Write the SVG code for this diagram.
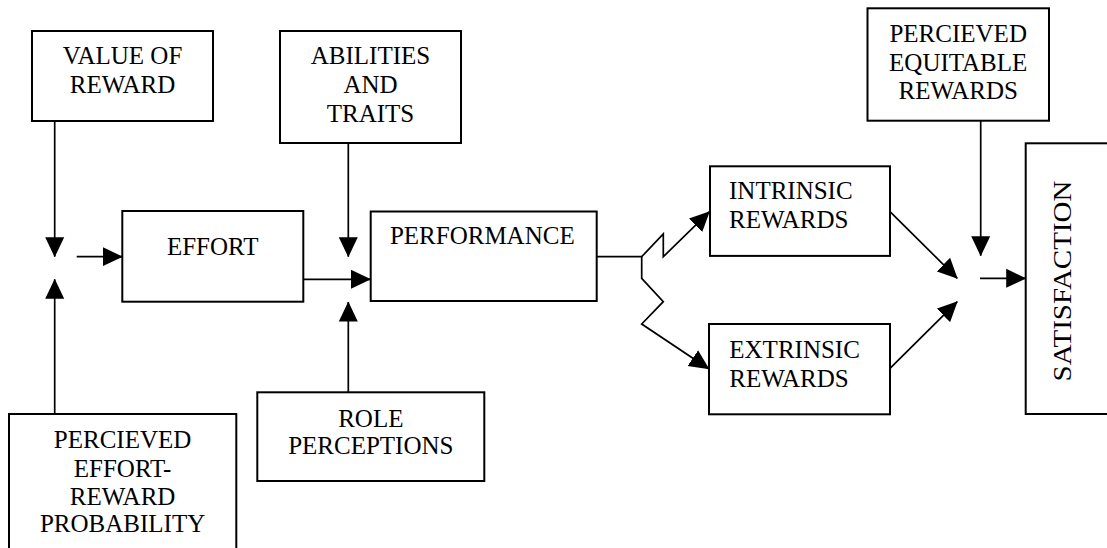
<svg xmlns="http://www.w3.org/2000/svg" width="1107" height="548" viewBox="0 0 1107 548">
<style>
  .box { fill: #ffffff; stroke: #000000; stroke-width: 2; }
  .lbl { font-family: "Liberation Serif", "Times New Roman", serif; font-size: 25px; fill: #000000; }
  .c { text-anchor: middle; }
  .conn { fill: none; stroke: #000000; stroke-width: 1.7; marker-end: url(#arrow); }
</style>
<defs>
  <marker id="arrow" markerUnits="userSpaceOnUse" markerWidth="20" markerHeight="20" refX="19.5" refY="9.5" orient="auto" viewBox="0 0 20 19">
    <path d="M0,0 L20,9.5 L0,19 Z" fill="#000000"/>
  </marker>
</defs>
<rect width="1107" height="548" fill="#ffffff"/>

<g id="connectors">
  <path class="conn" d="M54.7,121 V256.7"/>
  <path class="conn" d="M54.7,414 V279.3"/>
  <path class="conn" d="M76.7,256.7 H122.3"/>
  <path class="conn" d="M303,279.3 H370.5"/>
  <path class="conn" d="M348.3,143 V256.7"/>
  <path class="conn" d="M348.3,392 V302"/>
  <path class="conn" d="M597,256.7 H641.7 L663.3,234 V256.7 L709.5,211.7"/>
  <path class="conn" d="M641.7,256.7 V278.3 L663.3,301.7 L641.7,324 L709,369"/>
  <path class="conn" d="M890,211.7 L957.3,278.3"/>
  <path class="conn" d="M890,368.3 L957.3,301.7"/>
  <path class="conn" d="M980.7,121 V255.7"/>
  <path class="conn" d="M980,278.3 H1025.7"/>
</g>

<g id="value-of-reward">
  <rect class="box" x="32" y="31" width="181" height="90"/>
  <text class="lbl c" x="122.5" y="64.3">VALUE OF</text>
  <text class="lbl c" x="122.5" y="92.7">REWARD</text>
</g>

<g id="abilities-and-traits">
  <rect class="box" x="280" y="31" width="181" height="112"/>
  <text class="lbl c" x="370.5" y="63.8">ABILITIES</text>
  <text class="lbl c" x="370.5" y="92.7">AND</text>
  <text class="lbl c" x="370.5" y="121.5">TRAITS</text>
</g>

<g id="percieved-equitable-rewards">
  <rect class="box" x="867.5" y="8.3" width="181.5" height="112.4"/>
  <text class="lbl c" x="958.2" y="41.5">PERCIEVED</text>
  <text class="lbl c" x="958.2" y="70.5">EQUITABLE</text>
  <text class="lbl c" x="958.2" y="99">REWARDS</text>
</g>

<g id="effort">
  <rect class="box" x="122.3" y="211" width="181" height="90.7"/>
  <text class="lbl c" x="212.7" y="255">EFFORT</text>
</g>

<g id="performance">
  <rect class="box" x="370.7" y="211.5" width="226" height="89.5"/>
  <text class="lbl c" x="482.3" y="244.3">PERFORMANCE</text>
</g>

<g id="intrinsic-rewards">
  <rect class="box" x="710" y="166.3" width="180" height="89.6"/>
  <text class="lbl" x="729" y="199">INTRINSIC</text>
  <text class="lbl" x="729" y="227.7">REWARDS</text>
</g>

<g id="extrinsic-rewards">
  <rect class="box" x="709" y="324" width="181" height="90.3"/>
  <text class="lbl" x="729.3" y="357.7">EXTRINSIC</text>
  <text class="lbl" x="729.3" y="387.3">REWARDS</text>
</g>

<g id="role-perceptions">
  <rect class="box" x="257.3" y="392.3" width="227" height="88.7"/>
  <text class="lbl c" x="370.8" y="426.7">ROLE</text>
  <text class="lbl c" x="370.8" y="454">PERCEPTIONS</text>
</g>

<g id="percieved-effort-reward-probability">
  <rect class="box" x="9" y="414" width="227.3" height="150"/>
  <text class="lbl c" x="122.6" y="448.3">PERCIEVED</text>
  <text class="lbl c" x="122.6" y="476.7">EFFORT-</text>
  <text class="lbl c" x="122.6" y="505">REWARD</text>
  <text class="lbl c" x="122.6" y="532">PROBABILITY</text>
</g>

<g id="satisfaction">
  <rect class="box" x="1025.7" y="143.3" width="100" height="270.7"/>
  <text class="lbl c" x="0" y="0" transform="translate(1071,281) rotate(-90) scale(1.16,1)">SATISFACTION</text>
</g>
</svg>
